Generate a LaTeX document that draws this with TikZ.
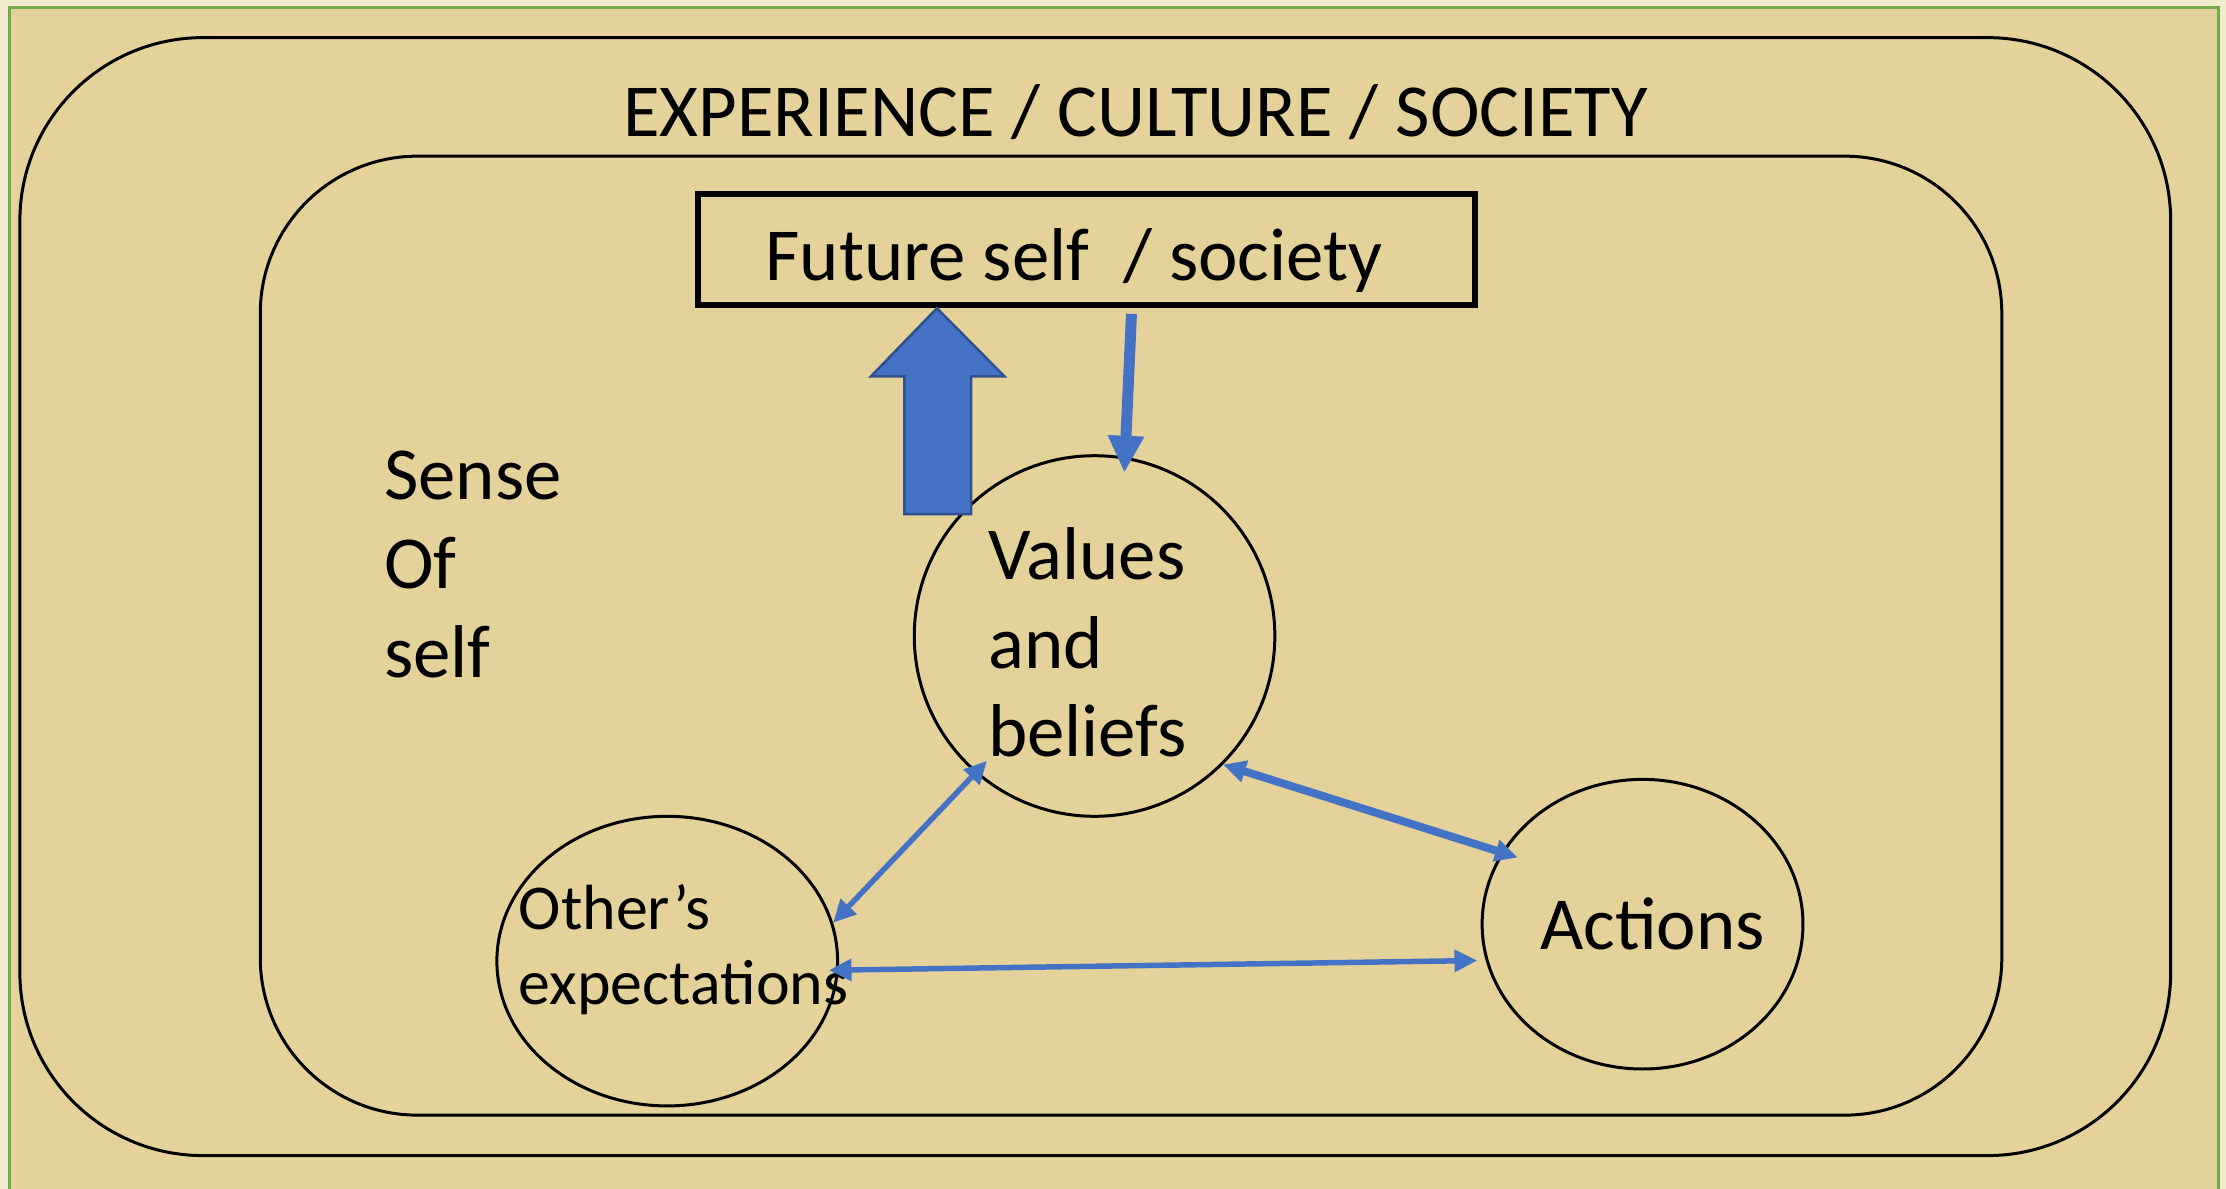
\documentclass[tikz,border=0pt]{standalone}
\usepackage{fontspec}
\setmainfont{Carlito}
\usetikzlibrary{arrows.meta,shapes.geometric}

\definecolor{pagebg}{RGB}{242,234,207}
\definecolor{sand}{RGB}{228,210,154}
\definecolor{slidegreen}{RGB}{112,173,71}
\definecolor{officeblue}{RGB}{68,114,196}
\definecolor{officeline}{RGB}{47,82,143}

\begin{document}
\begin{tikzpicture}[
  big text/.style={
    font=\fontsize{15}{17.8}\selectfont,
    inner sep=0pt,
    align=left
  },
  small text/.style={
    font=\fontsize{12.8}{15.1}\selectfont,
    inner sep=0pt,
    align=left
  },
  round frame/.style={
    draw,
    line width=0.6pt,
    rounded corners=#1,
    inner sep=0pt
  },
  bubble/.style={
    draw,
    ellipse,
    line width=0.6pt,
    inner sep=0pt
  },
  link/.style={
    draw=officeblue,
    line width=#1,
    {Triangle[length=0.16cm,width=0.15cm]}-{Triangle[length=0.16cm,width=0.15cm]}
  },
  link/.default=1pt,
]
\fill[pagebg] (0,0) rectangle (15.68,-8.375);
\useasboundingbox (0,0) rectangle (15.68,-8.375);
\begin{scope}
  \clip (0,0) rectangle (15.68,-8.375);
  \draw[slidegreen,fill=sand,line width=0.6pt] (0.068,-0.052) rectangle (15.625,-8.6);
\end{scope}

% frames
\node[round frame=1.29cm,minimum width=15.15cm,minimum height=7.875cm] (world) at (7.715,-4.2025) {};
\node[round frame=1.107cm,minimum width=12.267cm,minimum height=6.755cm] (self) at (7.967,-4.4775) {};
\node[big text,anchor=base] (title) at (8.00,-0.96) {EXPERIENCE / CULTURE / SOCIETY};
\node[big text,anchor=north west] (sense) at (2.70,-3.17) {Sense\\Of\\self};

% future box
\node[draw,line width=1.2pt,minimum width=5.47cm,minimum height=0.78cm,
  label={[big text,xshift=-0.09cm,yshift=-0.075cm]center:Future self\ \ / society}] (fut) at (7.655,-1.76) {};

% bubbles
\node[bubble,circle,minimum size=2.54cm,
  label={[big text,xshift=-0.05cm,yshift=-0.045cm]center:Values\\and\\beliefs}] (vals) at (7.71,-4.48) {};
\node[bubble,minimum width=2.40cm,minimum height=2.04cm,
  label={[small text,xshift=0.115cm,yshift=0.08cm]center:Other’s\\expectations}] (oth) at (4.70,-6.77) {};
\node[bubble,minimum width=2.26cm,minimum height=2.04cm,
  label={[big text,xshift=0.07cm]center:Actions}] (act) at (11.57,-6.51) {};

% block arrow up to the box
\coordinate (tip) at ([xshift=-1.055cm]fut.south);
\draw[officeline,fill=officeblue,line width=0.5pt] (tip) -- ++(0.475,-0.48) -- ++(-0.235,0)
  -- ++(0,-0.97) -- ++(-0.47,0) -- ++(0,0.97) -- ++(-0.235,0) -- cycle;

% arrows
\draw[officeblue,line width=2.2pt,-{Triangle[length=0.26cm,width=0.24cm]}]
  ([xshift=0.315cm,yshift=-0.04cm]fut.south) -- ([xshift=0.21cm,yshift=-0.13cm]vals.north);
\draw[link=1.1pt,shorten <=-0.12cm] (vals.229) -- (oth.13);
\draw[link=1.6pt,shorten >=-0.12cm] (vals.-45) -- (act.153);
\draw[link=1.1pt,shorten <=-0.07cm,shorten >=0.06cm] (oth.-3) -- (act.193);
\end{tikzpicture}
\end{document}
